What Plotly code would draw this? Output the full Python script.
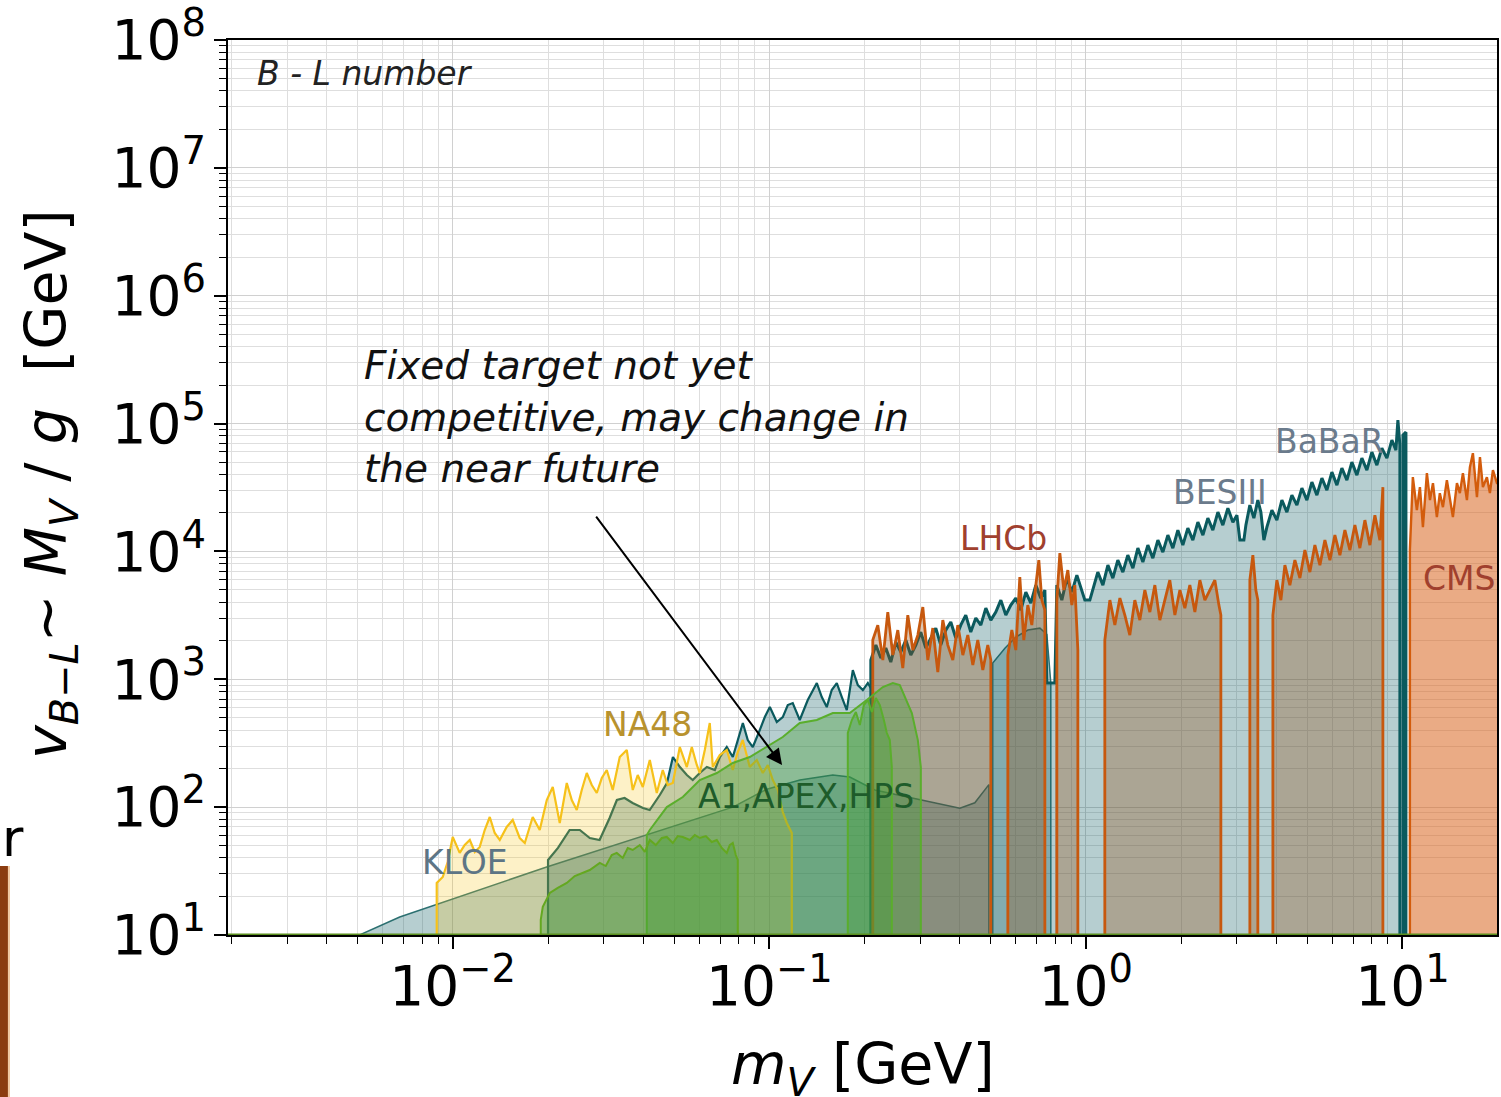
import numpy as np
import plotly.graph_objects as go

V_FLOOR = 10.0  # bottom of every excluded region (lower edge of the y range)

# ---------------- data: dark-photon mass m_V [GeV] vs v_{B-L} [GeV] ----------------
# smooth e+e- limit (thin teal line)
ee_smooth_mass = [0.00508, 0.0068, 0.0198, 0.041, 0.0767, 0.0982, 0.125, 0.1587,
                  0.1796, 0.2155, 0.299, 0.40, 0.446, 0.487, 0.494]
ee_smooth_v = [10, 13.8, 34, 60.5, 100, 138, 163, 178, 172, 136, 114, 98, 108, 144, 150]

# smooth hump below the omega
ee_hump_mass = [0.508, 0.555, 0.601, 0.656, 0.716, 0.753, 0.775]
ee_hump_v = [1340, 1750, 2140, 2425, 2510, 2250, 933]

# KLOE
kloe_mass = [0.0200, 0.0215, 0.0234, 0.0252, 0.0271, 0.0291, 0.0313, 0.0330, 0.0349,
             0.0370, 0.0399, 0.0419, 0.0451, 0.0475, 0.0496, 0.0522, 0.0549, 0.0573,
             0.0603, 0.0635, 0.0673, 0.0698, 0.0734, 0.0767, 0.0795, 0.0825, 0.0855,
             0.0887, 0.0933, 0.0968, 0.1004, 0.1056, 0.1103, 0.1144, 0.1186, 0.1248,
             0.1323, 0.1413, 0.1465, 0.1519, 0.1575, 0.1634, 0.1695, 0.1757, 0.1836,
             0.1904, 0.1975, 0.2048, 0.2109]
kloe_v = [38.6, 47.9, 66.2, 66.2, 57.3, 55.3, 82.2, 113.6, 117.8, 107.6, 98.4, 94.9,
          124.3, 154.3, 246.5, 205.8, 178.2, 162.9, 184.8, 205.8, 195, 246.5, 295,
          246.5, 334.6, 454.6, 334.6, 295, 400.6, 506.3, 606, 462.8, 506.3, 628.4,
          651.4, 479.8, 687.7, 933.8, 725.9, 606, 823.4, 933.8, 725.9, 574.3, 1180,
          900.8, 823.4, 933.8, 823.4]

# NA48
na48_mass = [0.00890, 0.00930, 0.00964, 0.0100, 0.01052, 0.01091, 0.01132, 0.01174,
             0.01217, 0.01262, 0.01309, 0.01357, 0.01408, 0.01481, 0.01547, 0.01628,
             0.01689, 0.01789, 0.01883, 0.01982, 0.02070, 0.02178, 0.02292, 0.02377,
             0.02465, 0.02556, 0.02651, 0.02749, 0.02851, 0.02957, 0.03066, 0.03202,
             0.03370, 0.03546, 0.03704, 0.03841, 0.03985, 0.04193, 0.04411, 0.04608,
             0.04779, 0.04957, 0.05216, 0.05488, 0.05691, 0.05902, 0.06032, 0.06256,
             0.06486, 0.06630, 0.06976, 0.07339, 0.07667, 0.07951, 0.08245, 0.08675,
             0.09129, 0.09539, 0.09892, 0.1026, 0.1064, 0.1103, 0.1136, 0.1178]
na48_v = [25.5, 28.4, 37.2, 58.4, 43.8, 50.5, 55.3, 44.6, 48.8, 66.2, 83.7, 62.7, 55.3,
          69.9, 79.3, 57.3, 52.4, 83.7, 66.2, 113.6, 143.6, 75.1, 154.3, 113.6, 94.9,
          136.1, 184.8, 148.9, 128.9, 168.8, 195, 136.1, 246.5, 279.5, 136.1, 178.2,
          143.6, 233.5, 128.9, 195, 148.9, 154.3, 295.1, 205.8, 295.1, 213.4, 184.8,
          279.5, 454.6, 205.8, 255.5, 279.5, 195, 269.7, 334.6, 205.8, 233.5, 184.8,
          213.4, 162.9, 136.1, 91.5, 75.1, 62.7]

# A1 (smooth), APEX, HPS
a1_mass = [0.04102, 0.04193, 0.04745, 0.05331, 0.06032, 0.06826, 0.07667, 0.08675,
           0.0982, 0.1103, 0.1248, 0.1413, 0.1587, 0.1796, 0.2032, 0.2284, 0.2456,
           0.2584, 0.2820, 0.2946, 0.3011]
a1_v = [60.5, 66.2, 100, 120, 162.9, 184.8, 221.2, 246.5, 295.1, 353.2, 454.6, 479.8,
        544.1, 544.1, 687.7, 868.9, 933.8, 900.8, 544.1, 334.6, 205.8]

apex_mass = [0.1770, 0.1823, 0.1877, 0.1932, 0.1989, 0.2048, 0.2109, 0.2171, 0.2235,
             0.2301, 0.2351, 0.2403, 0.2438]
apex_v = [379.7, 479.8, 554, 438.4, 628.4, 687.7, 554, 712.9, 628.4, 479.8, 379.7,
          334.6, 205.8]

hps_mass = [0.01897, 0.01925, 0.02026, 0.02147, 0.02292, 0.02429, 0.02575, 0.02709,
            0.02914, 0.03044, 0.03179, 0.03297, 0.03444, 0.03572, 0.03704, 0.03897,
            0.04044, 0.04193, 0.04380, 0.04575, 0.04745, 0.04957, 0.05140, 0.05331,
            0.05609, 0.05817, 0.06032, 0.06302, 0.06581, 0.06826, 0.07078, 0.07339,
            0.07501, 0.07667, 0.07837, 0.07951]
hps_v = [13.1, 16.6, 21.3, 23.3, 25.5, 28.9, 30.5, 32.2, 36.6, 34.6, 42.2, 43.8, 40.0,
         47.9, 46.2, 50.5, 44.6, 55.3, 50.5, 57.3, 58.4, 52.4, 59.4, 58.4, 55.3, 60.5,
         57.3, 59.4, 53.3, 55.3, 47.9, 43.8, 50.5, 52.4, 42.2, 38.6]

# BaBaR (None separates disjoint mass windows)
babar_mass = [0.2093, 0.2171, 0.2251, 0.2334, 0.2420, 0.2510, 0.2603, 0.2699, 0.2799,
              0.2903, 0.3010, 0.3122, 0.3237, 0.3357, 0.3481, 0.3610, 0.3744, 0.3883,
              0.4026, 0.4175, 0.4330, 0.4492, 0.4658, 0.4831, 0.5010, 0.5195, 0.5388,
              0.5587, 0.5794, 0.6009, 0.6231, 0.6462, 0.6701, 0.6950, 0.7207, 0.7422,
              0.7530, 0.7982,
              0.8099, 0.8398, 0.8710, 0.9032, 0.9367, 0.9713,
              0.9928, 1.0295,
              1.052, 1.091, 1.132, 1.174, 1.217, 1.262, 1.309, 1.357, 1.408, 1.460,
              1.514, 1.570, 1.628, 1.689, 1.751, 1.816, 1.883, 1.953, 2.025, 2.100,
              2.178, 2.259, 2.343, 2.429, 2.519, 2.613, 2.709, 2.810, 2.914, 3.000,
              3.066, 3.157,
              3.203, 3.297, 3.395, 3.494, 3.572,
              3.651,
              3.732, 3.870, 4.013, 4.162, 4.316, 4.476, 4.642, 4.814, 4.992, 5.177,
              5.369, 5.568, 5.774, 5.988, 6.210, 6.439, 6.678, 6.925, 7.182, 7.447,
              7.723, 8.009, 8.306, 8.613, 8.933, 9.264, 9.539, 9.678, 9.820,
              None,
              10.04, 10.26]
babar_v = [1413, 1851, 1465, 1753, 1363, 1954, 1632, 2025, 1546, 1851, 2339, 1753, 2100,
           2514, 1851, 2425, 2801, 2100, 2653, 3177, 2339, 3009, 2653, 3603, 2903, 3353,
           4161, 3177, 3803, 4314, 3476, 4806, 3943, 5452, 4314, 4983,
           934, 934,
           5452, 4161, 6183, 4806, 6526, 4983,
           4161, 4161,
           4983, 6889, 5452, 7815, 6183, 8551, 6889, 9357, 7403, 10612, 8250, 11202,
           8862, 12258, 9874, 13411, 10612, 14673, 11202, 15212, 12258, 16947, 13411,
           18208, 14673, 20294, 16057, 21806, 16947, 19217,
           12258, 12258,
           16057, 23010, 18208, 25188, 20294,
           12258,
           15488, 21032, 17567, 25188, 20294, 27554, 23010, 31257, 25188, 34819, 27554,
           37418, 30153, 41686, 32990, 44796, 36097, 49913, 39502, 53641, 43222, 59772,
           47283, 64226, 53641, 74182, 61944, 106300, 67779,
           None,
           81200, 85700]

# LHCb
lhcb_mass = [0.2123, 0.2202, 0.2284, 0.2368, 0.2456, 0.2547, 0.2641, 0.2739, 0.2841,
             0.2946, 0.3055, 0.3168, 0.3285, 0.3407, 0.3533, 0.3664, 0.3800, 0.3940,
             0.4087, 0.4238, 0.4395, 0.4557, 0.4726, 0.4901, 0.5010,
             None,
             0.5670, 0.5837, 0.6009, 0.6186, 0.6368, 0.6556, 0.6751, 0.6950, 0.7103,
             0.7260, 0.7422,
             None,
             0.8099, 0.8277, 0.8521, 0.8772, 0.9032, 0.9231, 0.9435,
             None,
             1.148, 1.191, 1.235, 1.281, 1.328, 1.377, 1.428, 1.481, 1.536, 1.593,
             1.652, 1.713, 1.777, 1.842, 1.911, 1.982, 2.055, 2.131, 2.210, 2.292,
             2.377, 2.465, 2.556, 2.632, 2.670,
             None,
             3.297, 3.370, 3.444, 3.494,
             None,
             3.898, 4.013, 4.132, 4.254, 4.411, 4.575, 4.745, 4.920, 5.102, 5.291,
             5.488, 5.691, 5.902, 6.120, 6.347, 6.582, 6.826, 7.078, 7.339, 7.612,
             7.894, 8.187, 8.489, 8.677]
lhcb_v = [2025, 2653, 1413, 3353, 1546, 2425, 1223, 3177, 1692, 2216, 3668, 1413, 2514,
          1138, 2903, 1851, 1413, 2653, 1546, 2216, 1291, 2025, 1180, 1851, 1413,
          None,
          1546, 2425, 1692, 6295, 2025, 3803, 2653, 5452, 8551, 4161, 3476,
          None,
          4161, 9698, 4983, 7142, 3803, 5452, 1692,
          None,
          2025, 4161, 2653, 4314, 3177, 2216, 4161, 2903, 4983, 3353, 5452, 2903, 4161,
          5965, 3177, 4983, 3603, 5452, 3353, 5965, 4161, 4983, 5965, 3803, 3177,
          None,
          5965, 9357, 4983, 4161,
          None,
          3177, 5965, 4161, 7815, 5452, 8551, 6183, 10237, 6889, 11202, 7815, 12258,
          8551, 13411, 9357, 14673, 10237, 16057, 10612, 17567, 11202, 19217, 12258,
          31820]

# CMS
cms_mass = [10.56, 10.79, 11.11, 11.36, 11.61, 11.95, 12.22, 12.49, 12.85, 13.13, 13.43,
            13.82, 14.13, 14.44, 14.87, 15.19, 15.53, 15.99, 16.34, 16.70, 17.20, 17.58,
            17.96, 18.49, 18.90, 19.32, 19.89, 20.5]
cms_v = [10237, 38096, 21032, 31820, 15488, 40948, 25188, 34198, 18545, 28565, 22202,
         36097, 25188, 18545, 34198, 28565, 40948, 25188, 45615, 58707, 26582, 54625,
         31820, 38096, 28565, 43222, 34198, 34198]

# axis ticks
x_tick_vals = [1e-2, 1e-1, 1e0, 1e1]
x_tick_text = ["10<sup>−2</sup>", "10<sup>−1</sup>", "10<sup>0</sup>", "10<sup>1</sup>"]
y_tick_vals = [1e1, 1e2, 1e3, 1e4, 1e5, 1e6, 1e7, 1e8]
y_tick_text = ["10<sup>%d</sup>" % k for k in range(1, 9)]
x_minor_vals = [m * 10.0 ** e for e in range(-3, 2) for m in range(2, 10)]
y_minor_vals = [m * 10.0 ** e for e in range(1, 8) for m in range(2, 10)]

# ---------------- styling ----------------
FONT = "DejaVu Sans"
TEAL = "#0b5a5e"
TEAL_FILL = "rgba(14,94,99,0.30)"
YELLOW = "#f6c11a"
YELLOW_FILL = "rgba(248,200,30,0.25)"
GREEN = "#5aae2c"
GREEN_FILL = "rgba(70,160,55,0.38)"
ORANGE = "#c7580e"
ORANGE_FILL = "rgba(150,82,28,0.33)"
CMS_LINE = "#d35c0c"
CMS_FILL = "rgba(216,102,32,0.55)"


def closed_regions(mass, v):
    """Turn a (possibly None-separated) upper curve into closed polygons down to V_FLOOR."""
    xs, ys = [], []
    seg_m, seg_v = [], []
    for m, y in list(zip(mass, v)) + [(None, None)]:
        if m is None:
            if seg_m:
                xs += [seg_m[0]] + seg_m + [seg_m[-1], None]
                ys += [V_FLOOR] + seg_v + [V_FLOOR, None]
            seg_m, seg_v = [], []
        else:
            seg_m.append(m)
            seg_v.append(y)
    return xs[:-1], ys[:-1]


fig = go.Figure()


def add_region(mass, v, line, fill, width=2.0):
    xs, ys = closed_regions(mass, v)
    fig.add_trace(go.Scatter(x=xs, y=ys, mode="lines", fill="toself",
                             fillcolor=fill, line=dict(color=line, width=width),
                             hoverinfo="skip", showlegend=False))


add_region(ee_smooth_mass, ee_smooth_v, "#2b6f70", TEAL_FILL, 1.5)
add_region(ee_hump_mass, ee_hump_v, "#2b6f70", TEAL_FILL, 1.5)
add_region(kloe_mass, kloe_v, TEAL, TEAL_FILL, 2.2)
add_region(na48_mass, na48_v, YELLOW, YELLOW_FILL, 2.2)
add_region(babar_mass, babar_v, TEAL, TEAL_FILL, 3.0)
add_region(lhcb_mass, lhcb_v, ORANGE, ORANGE_FILL, 2.8)
add_region(cms_mass, cms_v, CMS_LINE, CMS_FILL, 2.4)
add_region(a1_mass, a1_v, GREEN, GREEN_FILL, 2.0)
add_region(apex_mass, apex_v, GREEN, GREEN_FILL, 2.0)
add_region(hps_mass, hps_v, "#64a820", GREEN_FILL, 2.0)

# common floor line
fig.add_trace(go.Scatter(x=[0.0019, 21], y=[V_FLOOR, V_FLOOR], mode="lines",
                         line=dict(color="#5b8f1e", width=3), hoverinfo="skip",
                         showlegend=False))

# ---------------- experiment labels ----------------
labels = [
    ("KLOE", 0.01091, 37.2, "#5d7585"),
    ("NA48", 0.0413, 446, "#b8922e"),
    ("A1,APEX,HPS", 0.1304, 122, "#1e5c2a"),
    ("LHCb", 0.5508, 12700, "#a0402e"),
    ("BESIII", 2.651, 29090, "#6b7b8c"),
    ("BaBaR", 5.902, 72860, "#6b7b8c"),
    ("CMS", 15.09, 6183, "#a0402e"),
]
for text, m, v, col in labels:
    fig.add_annotation(x=np.log10(m), y=np.log10(v), xref="x", yref="y", text=text,
                       showarrow=False, font=dict(family=FONT, size=33, color=col),
                       xanchor="center", yanchor="middle")

fig.add_annotation(x=0.0213, y=0.9631, xref="paper", yref="paper",
                   text="<i>B - L number</i>", showarrow=False,
                   font=dict(family=FONT, size=33, color="#222222"),
                   xanchor="left", yanchor="middle")

note_lines = ["Fixed target not yet", "competitive, may change in", "the near future"]
for line_text, yy in zip(note_lines, [0.6358, 0.5777, 0.5207]):
    fig.add_annotation(x=0.1056, y=yy, xref="paper", yref="paper",
                       text="<i>" + line_text + "</i>", showarrow=False,
                       font=dict(family=FONT, size=39, color="#111111"),
                       xanchor="left", yanchor="middle")

fig.add_annotation(x=0.4366, y=0.1899, xref="paper", yref="paper", text="",
                   showarrow=True, ax=-187, ay=-250, arrowhead=2, arrowsize=1.6,
                   arrowwidth=2, arrowcolor="#000000")

# axis titles
fig.add_annotation(x=0.5, y=-0.1486, xref="paper", yref="paper",
                   text="<i>m</i><sub><i>V</i></sub> [GeV]", showarrow=False,
                   font=dict(family=FONT, size=57, color="#000000"),
                   xanchor="center", yanchor="middle")
fig.add_annotation(x=-0.1403, y=0.5039, xref="paper", yref="paper", textangle=-90,
                   text="<i>v</i><sub><i>B</i>−<i>L</i></sub>∼ <i>M</i><sub><i>V</i></sub> / <i>g</i>  [GeV]",
                   showarrow=False, font=dict(family=FONT, size=57, color="#000000"),
                   xanchor="center", yanchor="middle")

# stray elements at the left edge
fig.add_shape(type="rect", xref="paper", yref="paper", x0=-0.1797, x1=-0.1734,
              y0=-0.19, y1=0.0771, fillcolor="#8b3c10", line=dict(width=0))
fig.add_shape(type="rect", xref="paper", yref="paper", x0=-0.1734, x1=-0.1718,
              y0=-0.19, y1=0.0771, fillcolor="#f2c9a2", line=dict(width=0))
fig.add_annotation(x=-0.1797, y=0.1084, xref="paper", yref="paper", text="r",
                   showarrow=False, font=dict(family=FONT, size=52, color="#000000"),
                   xanchor="left", yanchor="middle")

axis_common = dict(
    type="log", tickmode="array",
    tickfont=dict(family=FONT, size=55, color="#000000"),
    ticks="outside", ticklen=12, tickwidth=1.5, tickcolor="#000000",
    showline=True, linecolor="#000000", linewidth=2, mirror=True,
    showgrid=True, gridcolor="#d0d0d0", gridwidth=1, zeroline=False,
    automargin=False,
)

fig.update_layout(
    width=1501, height=1097,
    margin=dict(l=228, r=4, t=40, b=162),
    paper_bgcolor="white", plot_bgcolor="white",
    xaxis=dict(range=[np.log10(0.00195), np.log10(19.9)],
               tickvals=x_tick_vals, ticktext=x_tick_text, ticklabelstandoff=-10,
               minor=dict(tickmode="array", tickvals=x_minor_vals, ticks="outside",
                          ticklen=7, tickwidth=1, tickcolor="#000000",
                          showgrid=True, gridcolor="#dedede", gridwidth=1),
               **axis_common),
    yaxis=dict(range=[0.9995, 8.0005],
               tickvals=y_tick_vals, ticktext=y_tick_text, ticklabelstandoff=-3,
               minor=dict(tickmode="array", tickvals=y_minor_vals, ticks="outside",
                          ticklen=7, tickwidth=1, tickcolor="#000000",
                          showgrid=True, gridcolor="#dedede", gridwidth=1),
               **axis_common),
    showlegend=False,
)

fig.write_html("out.html", config={"displayModeBar": False})
